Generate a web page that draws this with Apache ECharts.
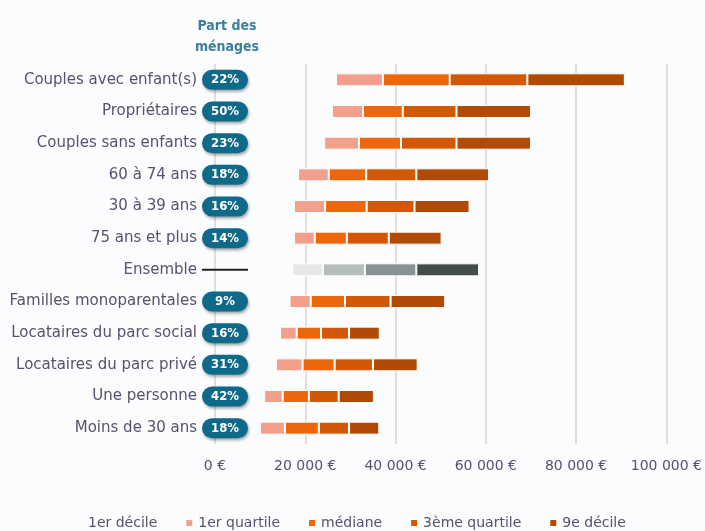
<!DOCTYPE html>
<html>
<head>
<meta charset="utf-8">
<script src="https://cdn.jsdelivr.net/npm/echarts@6/dist/echarts.min.js"></script>
<style>
html,body{margin:0;padding:0;background:#fafcfd;}
#chart{width:705px;height:531px;}
</style>
</head>
<body>
<div id="chart"></div>
<script>
// ---- Data ----
const categories = ["Couples avec enfant(s)","Propriétaires","Couples sans enfants","60 à 74 ans","30 à 39 ans","75 ans et plus","Ensemble","Familles monoparentales","Locataires du parc social","Locataires du parc privé","Une personne","Moins de 30 ans"];
const shares = [22, 50, 23, 18, 16, 14, null, 9, 16, 31, 42, 18];
const decile1   = [26800, 25900, 24200, 18400, 17500, 17500, 17100, 16500, 14400, 13500, 10900, 10000];
const quartile1 = [37200, 32800, 31900, 25200, 24400, 22100, 23900, 21200, 18100, 19400, 15000, 15500];
const mediane   = [52000, 41600, 41200, 33500, 33600, 29200, 33200, 28800, 23500, 26500, 20800, 23000];
const quartile3 = [69200, 53500, 53500, 44600, 44200, 38500, 44600, 38900, 29700, 35000, 27400, 29700];
const decile9   = [90800, 70000, 70000, 60700, 56400, 50200, 58500, 51000, 36500, 44900, 35200, 36400];
const seriesNames = ["1er décile","1er quartile","médiane","3ème quartile","9e décile"];
const xTicks = [0, 20000, 40000, 60000, 80000, 100000];

// ---- Styles ----
const orangeColors = ["rgba(0,0,0,0)", "#f2a08c", "#ee660a", "#d35806", "#b14a04"];
const greyColors   = ["rgba(0,0,0,0)", "#e6e7e7", "#b6bdbd", "#899292", "#434b4b"];
const textColor = "#57516d";
const FONT = "DejaVu Sans";
const ensembleIdx = categories.indexOf("Ensemble");

const bounds = [decile1, quartile1, mediane, quartile3, decile9];
const series = seriesNames.map((name, s) => ({
  name: name,
  type: "bar",
  stack: "dist",
  barWidth: 13,
  itemStyle: {
    color: orangeColors[s],
    borderColor: s === 0 ? "rgba(0,0,0,0)" : "#ffffff",
    borderWidth: s === 0 ? 0 : 1
  },
  emphasis: {disabled: true},
  data: categories.map((c, i) => {
    const v = s === 0 ? bounds[0][i] : bounds[s][i] - bounds[s - 1][i];
    if (i === ensembleIdx) {
      return {value: v, itemStyle: {color: greyColors[s]}};
    }
    return v;
  })
}));

function fmtEuro(v) {
  return String(v).replace(/\B(?=(\d{3})+(?!\d))/g, " ") + " €";
}

const chart = echarts.init(document.getElementById("chart"), null, {renderer: "canvas"});
chart.setOption({
  backgroundColor: "#fafcfd",
  animation: false,
  textStyle: {fontFamily: FONT},
  title: {
    text: "Part des\nménages",
    left: 222,
    textAlign: "center",
    top: 11,
    textStyle: {fontFamily: "DejaVu Sans Condensed", fontSize: 14, fontWeight: "bold", color: "#3d7e9d", lineHeight: 21}
  },
  legend: {
    data: seriesNames,
    left: 70,
    top: 511,
    itemWidth: 8,
    itemHeight: 8,
    itemGap: 27,
    icon: "rect",
    textStyle: {fontFamily: FONT, fontSize: 14, color: textColor}
  },
  grid: {left: 215, right: 36, top: 64, bottom: 87, containLabel: false},
  xAxis: {
    type: "value",
    min: xTicks[0],
    max: xTicks[xTicks.length - 1],
    interval: xTicks[1] - xTicks[0],
    axisLine: {show: false},
    axisTick: {show: false},
    splitLine: {show: true, lineStyle: {color: "#dfdfdf", width: 2}},
    axisLabel: {
      margin: 15,
      fontFamily: FONT,
      fontSize: 14,
      color: textColor,
      formatter: fmtEuro
    }
  },
  yAxis: {
    type: "category",
    data: categories,
    inverse: true,
    axisLine: {show: false},
    axisTick: {show: false},
    axisLabel: {
      margin: -33,
      formatter: function (value, index) {
        const sh = shares[index];
        if (sh === null || sh === undefined) {
          return "{name|" + value + "}{line| }";
        }
        return "{name|" + value + "}{badge|" + sh + "%}";
      },
      rich: {
        name: {fontFamily: FONT, fontSize: 15, color: textColor, padding: [0, 5, 0, 0]},
        badge: {
          fontFamily: "DejaVu Sans Condensed", fontSize: 13, fontWeight: "bold", color: "#ffffff",
          backgroundColor: "#0f6a8a", width: 46, height: 14, align: "center",
          padding: [3, 0, 3, 0], borderRadius: 11,
          shadowColor: "rgba(0,0,0,0.35)", shadowBlur: 3, shadowOffsetX: 1, shadowOffsetY: 2
        },
        line: {
          fontSize: 1, width: 46, height: 2, lineHeight: 2, backgroundColor: "#222222"
        }
      }
    }
  },
  series: series
});
</script>
</body>
</html>
